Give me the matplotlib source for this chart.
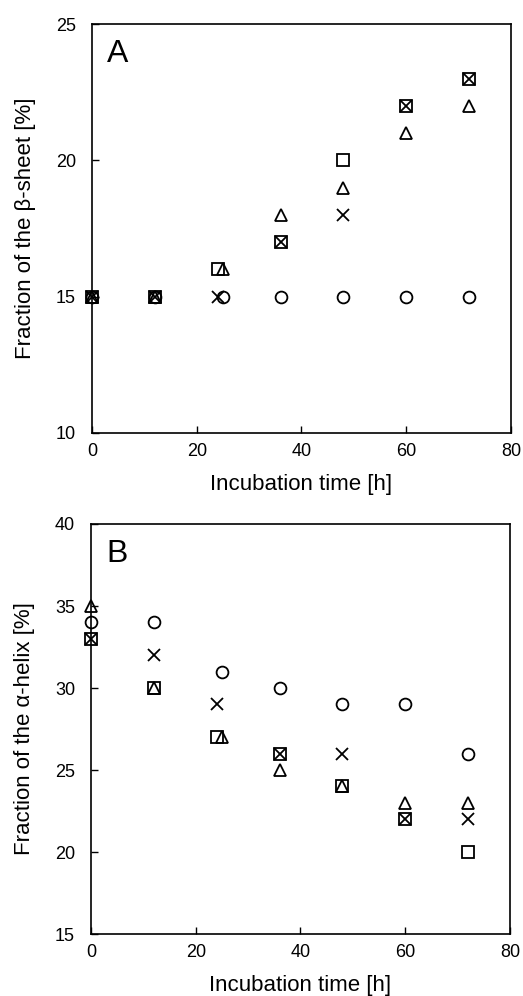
import matplotlib
matplotlib.use("Agg")
import matplotlib.pyplot as plt

plt.rcParams['font.family'] = ['Liberation Sans', 'DejaVu Sans']

# Panel A: beta-sheet
a_circle_x = [0, 12, 25, 36, 48, 60, 72]
a_circle_y = [15, 15, 15, 15, 15, 15, 15]
a_tri_x = [0, 12, 25, 36, 48, 60, 72]
a_tri_y = [15, 15, 16, 18, 19, 21, 22]
a_sq_x = [0, 12, 24, 36, 48, 60, 72]
a_sq_y = [15, 15, 16, 17, 20, 22, 23]
a_x_x = [0, 12, 24, 36, 48, 60, 72]
a_x_y = [15, 15, 15, 17, 18, 22, 23]

# Panel B: alpha-helix
b_circle_x = [0, 12, 25, 36, 48, 60, 72]
b_circle_y = [34, 34, 31, 30, 29, 29, 26]
b_tri_x = [0, 12, 25, 36, 48, 60, 72]
b_tri_y = [35, 30, 27, 25, 24, 23, 23]
b_sq_x = [0, 12, 24, 36, 48, 60, 72]
b_sq_y = [33, 30, 27, 26, 24, 22, 20]
b_x_x = [0, 12, 24, 36, 48, 60, 72]
b_x_y = [33, 32, 29, 26, 26, 22, 22]

x_ticks = [0, 20, 40, 60, 80]
a_yticks = [10, 15, 20, 25]
b_yticks = [15, 20, 25, 30, 35, 40]

fig = plt.figure(figsize=(5.23, 9.96), dpi=100)
axA = fig.add_axes([0.1759, 0.5653, 0.8011, 0.4106])
axB = fig.add_axes([0.1740, 0.0622, 0.8011, 0.4117])

def draw(ax, series, yticks, ylabel, letter):
    for (xs, ys, m, ms) in series:
        if m == 'x':
            ax.plot(xs, ys, linestyle='none', marker='x', markersize=ms,
                    color='black', markeredgewidth=1.3, clip_on=False, zorder=3)
        else:
            ax.plot(xs, ys, linestyle='none', marker=m, markersize=ms,
                    markerfacecolor='none', markeredgecolor='black',
                    markeredgewidth=1.3, clip_on=False, zorder=3)
    ax.set_xlim(0, 80)
    ax.set_ylim(yticks[0], yticks[-1])
    ax.set_xticks(x_ticks)
    ax.set_yticks(yticks)
    ax.tick_params(direction='in', length=5, width=1, labelsize=13, pad=7.5,
                   colors='black')
    ax.tick_params(axis='y', pad=11.5)
    for s in ax.spines.values():
        s.set_linewidth(1.2)
    ax.set_xlabel('Incubation time [h]', fontsize=16, labelpad=10)
    ax.set_ylabel(ylabel, fontsize=16, labelpad=14)
    ax.text(0.036, 0.907, letter, transform=ax.transAxes, fontsize=23,
            va='baseline', ha='left')

draw(axA, [(a_circle_x, a_circle_y, 'o', 8.5),
           (a_tri_x, a_tri_y, '^', 8.5),
           (a_sq_x, a_sq_y, 's', 8.5),
           (a_x_x, a_x_y, 'x', 8)],
     a_yticks, 'Fraction of the β-sheet [%]', 'A')
draw(axB, [(b_circle_x, b_circle_y, 'o', 8.5),
           (b_tri_x, b_tri_y, '^', 8.5),
           (b_sq_x, b_sq_y, 's', 8.5),
           (b_x_x, b_x_y, 'x', 8)],
     b_yticks, 'Fraction of the α-helix [%]', 'B')

fig.savefig('out.png', dpi=100)
